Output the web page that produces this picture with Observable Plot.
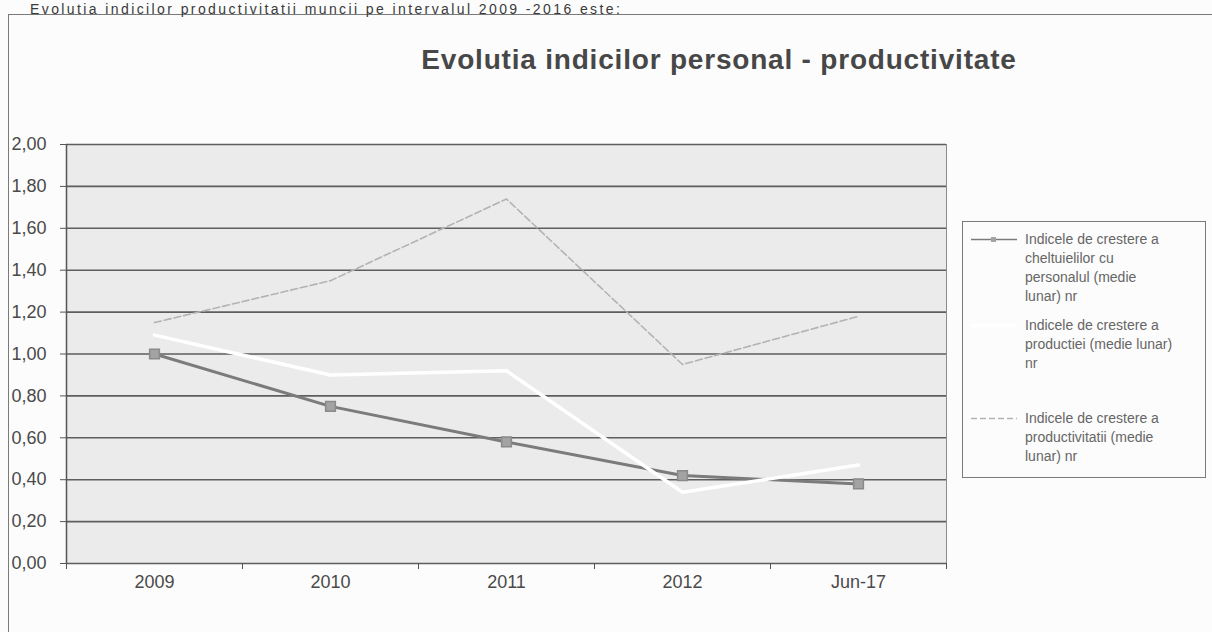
<!DOCTYPE html>
<html><head><meta charset="utf-8">
<script src="https://cdn.jsdelivr.net/npm/d3@7"></script>
<script src="https://cdn.jsdelivr.net/npm/@observablehq/plot@0.6"></script>
<style>
html,body{margin:0;padding:0;background:#fcfcfc;overflow:hidden;}
#wrap{position:relative;width:1212px;height:632px;overflow:hidden;font-family:"Liberation Sans",Arial,sans-serif;background:#fcfcfc;}
#intro{position:absolute;left:30px;top:1px;font-size:14px;line-height:16px;letter-spacing:2.4px;color:#3a3a3a;white-space:nowrap;}
#frame{position:absolute;left:8px;top:14px;width:1230px;height:650px;border-left:1.5px solid #7a7a7a;border-top:1.5px solid #7a7a7a;}
#chart{position:absolute;left:0;top:0;}
#title{position:absolute;left:0;width:1438px;top:46px;text-align:center;font-size:28px;line-height:28px;letter-spacing:0.8px;font-weight:bold;color:#474747;white-space:nowrap;}
#legend{position:absolute;left:962px;top:221px;width:242px;height:255px;border:1px solid #7a7a7a;background:#fcfcfc;}
.item{position:absolute;left:0;width:242px;}
.item svg{position:absolute;left:6px;top:0;}
.item .txt{position:absolute;left:62px;top:0;font-size:14px;line-height:19px;color:#666;white-space:nowrap;}
</style></head>
<body>
<div id="wrap">
  <div id="frame"></div>
  <div id="intro">Evolutia indicilor productivitatii muncii pe intervalul 2009 -2016 este:</div>
  <div id="chart"></div>
  <div id="title"></div>
  <div id="legend"></div>
</div>
<script>
const categories = ["2009", "2010", "2011", "2012", "Jun-17"];
const cheltuieli = [1.00, 0.75, 0.58, 0.42, 0.38];
const productie = [1.09, 0.90, 0.92, 0.34, 0.47];
const productivitate = [1.15, 1.35, 1.74, 0.95, 1.18];
const seriesLabels = [
  ["Indicele de crestere a", "cheltuielilor cu", "personalul (medie", "lunar) nr"],
  ["Indicele de crestere a", "productiei (medie lunar)", "nr"],
  ["Indicele de crestere a", "productivitatii (medie", "lunar)  nr"]
];
const yTicks = [0, 0.2, 0.4, 0.6, 0.8, 1.0, 1.2, 1.4, 1.6, 1.8, 2.0];
const titleText = "Evolutia indicilor personal - productivitate";

const idx = categories.map((c, i) => i);
const edges = categories.map((c, i) => i - 0.5).concat([categories.length - 0.5]);
const rows = vals => vals.map((v, i) => ({i, cat: categories[i], v}));

const styles = [
  {stroke: "#7b7b7b", strokeWidth: 3, dash: null, marker: true},
  {stroke: "#ffffff", strokeWidth: 3.5, dash: null, marker: false},
  {stroke: "#b3b3b3", strokeWidth: 1.6, dash: "7,3", marker: false}
];

const chart = Plot.plot({
  width: 1212,
  height: 632,
  marginLeft: 66,
  marginRight: 266,
  marginTop: 144,
  marginBottom: 69,
  style: {background: "transparent", fontFamily: "Liberation Sans, Arial, sans-serif", fontSize: "18px", color: "#4a4a4a", overflow: "visible"},
  x: {domain: [-0.5, categories.length - 0.5], label: null},
  y: {domain: [0, 2], label: null},
  marks: [
    Plot.frame({fill: "#ebebeb", stroke: "#8a8a8a"}),
    Plot.gridY(yTicks, {stroke: "#5e5e5e", strokeOpacity: 1, strokeWidth: 1.6}),
    Plot.axisY(yTicks, {label: null, tickSize: 6, tickPadding: 14, tickFormat: d => d.toFixed(2).replace(".", ","), stroke: "#555", fontSize: 18}),
    Plot.axisX(edges, {label: null, tickSize: 6, tickFormat: () => "", stroke: "#555"}),
    Plot.axisX(idx, {label: null, tickSize: 0, tickPadding: 12, tickFormat: i => categories[i], fontSize: 18, letterSpacing: "0.5px"}),
    Plot.ruleX([-0.5], {stroke: "#555", strokeWidth: 1.5}),
    Plot.line(rows(cheltuieli), {x: "i", y: "v", stroke: styles[0].stroke, strokeWidth: styles[0].strokeWidth}),
    Plot.dot(rows(cheltuieli), {x: "i", y: "v", symbol: "square", r: 5.5, fill: "#a3a3a3", stroke: "#8a8a8a"}),
    Plot.line(rows(productie), {x: "i", y: "v", stroke: styles[1].stroke, strokeWidth: styles[1].strokeWidth}),
    Plot.line(rows(productivitate), {x: "i", y: "v", stroke: styles[2].stroke, strokeWidth: styles[2].strokeWidth, strokeDasharray: styles[2].dash})
  ]
});
document.getElementById("chart").appendChild(chart);
document.getElementById("title").textContent = titleText;

// legend
const legend = document.getElementById("legend");
const itemTops = [8, 94, 187];
seriesLabels.forEach((lines, k) => {
  const item = document.createElement("div");
  item.className = "item";
  item.style.top = itemTops[k] + "px";
  const st = styles[k];
  const ns = "http://www.w3.org/2000/svg";
  const svg = document.createElementNS(ns, "svg");
  svg.setAttribute("width", 52);
  svg.setAttribute("height", 19);
  const ln = document.createElementNS(ns, "line");
  ln.setAttribute("x1", 2); ln.setAttribute("x2", 48);
  ln.setAttribute("y1", 9.5); ln.setAttribute("y2", 9.5);
  ln.setAttribute("stroke", st.stroke);
  ln.setAttribute("stroke-width", k === 0 ? 1.5 : st.strokeWidth);
  if (st.dash) ln.setAttribute("stroke-dasharray", "6,3");
  svg.appendChild(ln);
  if (st.marker) {
    const r = document.createElementNS(ns, "rect");
    r.setAttribute("x", 22); r.setAttribute("y", 7); r.setAttribute("width", 5); r.setAttribute("height", 5);
    r.setAttribute("fill", "#a3a3a3");
    svg.appendChild(r);
  }
  item.appendChild(svg);
  const t = document.createElement("div");
  t.className = "txt";
  lines.forEach((s, j) => {
    const d = document.createElement("div");
    d.textContent = s;
    t.appendChild(d);
  });
  item.appendChild(t);
  legend.appendChild(item);
});
</script>
</body></html>
